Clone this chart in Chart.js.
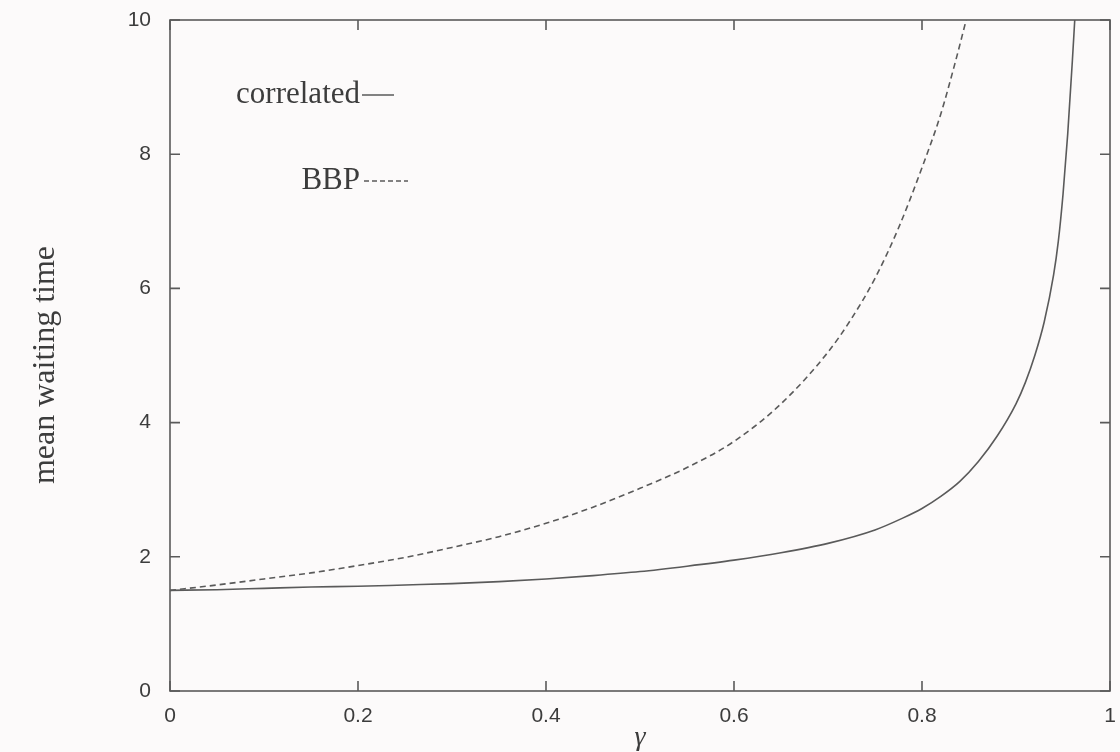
<!DOCTYPE html>
<html>
<head>
<meta charset="utf-8">
<script src="https://cdn.jsdelivr.net/npm/chart.js@4/dist/chart.umd.min.js"></script>
<style>
  html, body { margin: 0; padding: 0; background: #fcfafa; }
  #wrap { width: 1120px; height: 752px; }
</style>
</head>
<body>
<div id="wrap"><canvas id="c" width="1120" height="752"></canvas></div>
<script>
// ---- data ----
const gammaCorr = [0, 0.05, 0.1, 0.15, 0.2, 0.25, 0.3, 0.35, 0.4, 0.45, 0.5, 0.55, 0.6, 0.65, 0.7, 0.75, 0.78, 0.8, 0.82, 0.84, 0.86, 0.88, 0.9, 0.91, 0.92, 0.93, 0.94, 0.945, 0.95, 0.955, 0.96, 0.9625];
const waitCorr  = [1.5, 1.51, 1.53, 1.55, 1.56, 1.58, 1.60, 1.63, 1.67, 1.72, 1.78, 1.86, 1.95, 2.06, 2.20, 2.40, 2.58, 2.72, 2.90, 3.12, 3.42, 3.80, 4.28, 4.60, 5.0, 5.5, 6.2, 6.7, 7.4, 8.3, 9.4, 10.0];

const gammaBBP = [0, 0.05, 0.1, 0.15, 0.2, 0.25, 0.3, 0.35, 0.4, 0.45, 0.5, 0.55, 0.6, 0.65, 0.7, 0.725, 0.75, 0.775, 0.8, 0.82, 0.835, 0.847];
const waitBBP  = [1.5, 1.58, 1.67, 1.76, 1.87, 1.99, 2.14, 2.30, 2.50, 2.74, 3.02, 3.33, 3.72, 4.28, 5.05, 5.55, 6.15, 6.9, 7.8, 8.6, 9.35, 10.0];

const xTicks = [0, 0.2, 0.4, 0.6, 0.8, 1];
const xTickLabels = ["0", "0.2", "0.4", "0.6", "0.8", "1"];
const yTicks = [0, 2, 4, 6, 8, 10];
const yTickLabels = ["0", "2", "4", "6", "8", "10"];

const seriesNames = ["correlated", "BBP"];
const xTitle = "\u03b3";
const yTitle = "mean waiting time";

// ---- styles ----
const INK = "#5a5a5a";
const TEXT = "#3c3c3c";
const SERIF = "'Liberation Serif', 'DejaVu Serif', serif";
const SANS = "'Liberation Sans', Arial, sans-serif";

const toPts = (xs, ys) => xs.map((x, i) => ({ x: x, y: ys[i] }));

const framePlugin = {
  id: 'frame',
  beforeDraw(chart) {
    const ctx = chart.ctx;
    ctx.save();
    ctx.fillStyle = '#fcfafa';
    ctx.fillRect(0, 0, chart.width, chart.height);
    ctx.restore();
  },
  afterDraw(chart) {
    const { ctx, chartArea: a, scales } = chart;
    ctx.save();
    ctx.strokeStyle = INK;
    ctx.lineWidth = 1.6;
    ctx.strokeRect(a.left, a.top, a.right - a.left, a.bottom - a.top);
    const tl = 10;
    ctx.beginPath();
    xTicks.forEach(v => {
      const px = scales.x.getPixelForValue(v);
      ctx.moveTo(px, a.bottom); ctx.lineTo(px, a.bottom - tl);
      ctx.moveTo(px, a.top); ctx.lineTo(px, a.top + tl);
    });
    yTicks.forEach(v => {
      const py = scales.y.getPixelForValue(v);
      ctx.moveTo(a.left, py); ctx.lineTo(a.left + tl, py);
      ctx.moveTo(a.right, py); ctx.lineTo(a.right - tl, py);
    });
    ctx.stroke();

    // key
    ctx.fillStyle = TEXT;
    ctx.font = "31px " + SERIF;
    ctx.textAlign = 'right';
    ctx.textBaseline = 'middle';
    const keyX = 360;
    const keyY = [95, 181];
    ctx.fillText(seriesNames[0], keyX, keyY[0]);
    ctx.fillText(seriesNames[1], keyX, keyY[1]);
    ctx.strokeStyle = INK;
    ctx.lineWidth = 1.5;
    ctx.beginPath();
    ctx.moveTo(keyX + 2, keyY[0]); ctx.lineTo(keyX + 34, keyY[0]);
    ctx.stroke();
    ctx.setLineDash([5, 3]);
    ctx.beginPath();
    ctx.moveTo(keyX + 4, keyY[1]); ctx.lineTo(keyX + 48, keyY[1]);
    ctx.stroke();
    ctx.setLineDash([]);

    // axis titles
    ctx.textAlign = 'center';
    ctx.font = "italic 28px " + SERIF;
    ctx.fillText(xTitle, (a.left + a.right) / 2, 738);
    ctx.save();
    ctx.translate(46, 365);
    ctx.rotate(-Math.PI / 2);
    ctx.font = "32px " + SERIF;
    ctx.fillText(yTitle, 0, 0);
    ctx.restore();
    ctx.restore();
  }
};

new Chart(document.getElementById('c'), {
  type: 'line',
  data: {
    datasets: [
      {
        label: seriesNames[0],
        data: toPts(gammaCorr, waitCorr),
        borderColor: INK,
        borderWidth: 1.6,
        pointRadius: 0,
        cubicInterpolationMode: 'monotone',
        fill: false
      },
      {
        label: seriesNames[1],
        data: toPts(gammaBBP, waitBBP),
        borderColor: INK,
        borderWidth: 1.6,
        borderDash: [6, 4],
        pointRadius: 0,
        cubicInterpolationMode: 'monotone',
        fill: false
      }
    ]
  },
  options: {
    responsive: false,
    animation: false,
    devicePixelRatio: 1,
    layout: { padding: { top: 20, right: 10, left: 0, bottom: 0 } },
    plugins: { legend: { display: false }, tooltip: { enabled: false } },
    scales: {
      x: {
        type: 'linear',
        min: 0, max: 1,
        grid: { display: false, drawTicks: false },
        border: { display: false },
        afterBuildTicks: s => { s.ticks = xTicks.map(v => ({ value: v })); },
        afterFit: s => { s.height = 61; s.paddingLeft = 0; s.paddingRight = 0; s.paddingTop = 0; s.paddingBottom = 0; },
        ticks: {
          callback: (v, i) => xTickLabels[i],
          font: { family: SANS, size: 21 },
          color: TEXT,
          padding: 13,
          maxRotation: 0
        }
      },
      y: {
        type: 'linear',
        min: 0, max: 10,
        grid: { display: false, drawTicks: false },
        border: { display: false },
        afterBuildTicks: s => { s.ticks = yTicks.map(v => ({ value: v })); },
        afterFit: s => { s.width = 170; s.paddingTop = 0; s.paddingBottom = 0; s.paddingLeft = 0; s.paddingRight = 0; },
        ticks: {
          callback: (v, i) => yTickLabels[i],
          font: { family: SANS, size: 21 },
          color: TEXT,
          padding: 19
        }
      }
    }
  },
  plugins: [framePlugin]
});
</script>
</body>
</html>
